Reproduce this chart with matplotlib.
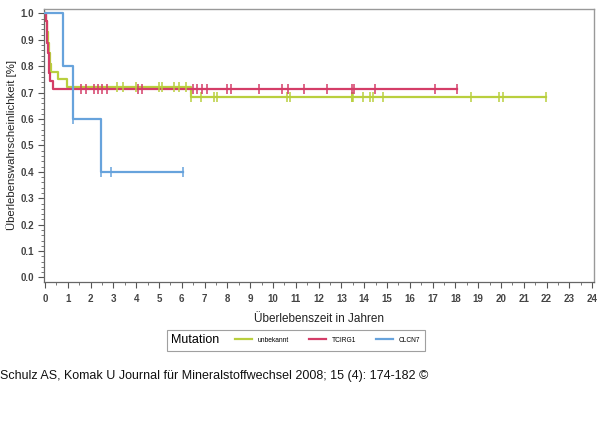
import numpy as np
import matplotlib.pyplot as plt
from matplotlib.ticker import MultipleLocator
from matplotlib.offsetbox import HPacker

# Kaplan-Meier curves (time in years, survival fraction)
unbek_t = [0, 0.05, 0.09, 0.13, 0.17, 0.21, 0.25, 0.58, 0.95, 6.39]
unbek_s = [1.0, 0.97, 0.93, 0.89, 0.85, 0.81, 0.78, 0.75, 0.722, 0.685]
unbek_end = 21.97
unbek_cens = [3.16, 3.40, 4.01, 4.98, 5.12, 5.66, 5.89, 6.18, 6.39, 6.83, 7.41,
              7.56, 10.63, 10.75, 13.45, 13.48, 13.52, 13.96, 14.25, 14.37,
              14.84, 18.68, 19.91, 20.08, 21.97]

tcirg_t = [0, 0.03, 0.07, 0.10, 0.13, 0.16, 0.19, 0.22, 0.37]
tcirg_s = [1.0, 0.97, 0.93, 0.89, 0.85, 0.81, 0.775, 0.745, 0.715]
tcirg_end = 18.07
tcirg_cens = [1.56, 1.78, 2.16, 2.34, 2.51, 2.71, 4.07, 4.24, 6.48, 6.65, 6.87,
              7.09, 7.97, 8.15, 9.40, 10.38, 10.67, 11.36, 12.36, 13.45, 13.55,
              14.47, 17.11, 18.07]

clcn_t = [0, 0.80, 1.22, 2.45]
clcn_s = [1.0, 0.8, 0.6, 0.4]
clcn_end = 6.07
clcn_cens = [1.22, 2.45, 2.90, 6.07]

labels = ["unbekannt", "TCIRG1", "CLCN7"]
colors = ["#b9cf3e", "#d43d68", "#67a3dc"]

plt.rcParams['font.family'] = ['Liberation Sans', 'DejaVu Sans']

fig = plt.figure(figsize=(6, 4.21), dpi=100)
ax = fig.add_axes([0.0733, 0.3302, 0.9167, 0.6484])

groups = [(unbek_t, unbek_s, unbek_end, unbek_cens),
          (tcirg_t, tcirg_s, tcirg_end, tcirg_cens),
          (clcn_t, clcn_s, clcn_end, clcn_cens)]

lines = []
for (t, s, end, cens), col, lab in zip(groups, colors, labels):
    tt = list(t) + [end]
    ss = list(s) + [s[-1]]
    ln, = ax.step(tt, ss, where='post', color=col, lw=1.6, label=lab, zorder=3)
    lines.append(ln)
    # survival at censor times from the step function
    idx = np.searchsorted(t, cens, side='right') - 1
    cy = np.array(s)[idx]
    ax.plot(cens, cy, ls='none', marker='|', ms=7, mew=1.1, color=col, zorder=4)

ax.set_xlim(-0.044, 24.08)
ax.set_ylim(-0.017, 1.017)
ax.xaxis.set_major_locator(MultipleLocator(1))
ax.xaxis.set_minor_locator(MultipleLocator(0.5))
ax.yaxis.set_major_locator(MultipleLocator(0.1))
ax.yaxis.set_minor_locator(MultipleLocator(0.02))
ax.yaxis.set_major_formatter(plt.FuncFormatter(lambda v, p: f"{v:.1f}"))

for sp in ['left', 'bottom']:
    ax.spines[sp].set_color('#666666')
    ax.spines[sp].set_linewidth(0.9)
for sp in ['top', 'right']:
    ax.spines[sp].set_color('#999999')
    ax.spines[sp].set_linewidth(1.0)

ax.tick_params(axis='both', which='major', length=4, width=0.8, color='#555555',
               labelsize=7, labelcolor='#444444', pad=5)
ax.tick_params(axis='y', which='major', pad=3)
ax.tick_params(axis='both', which='minor', length=2, width=0.7, color='#777777')
for lbl in ax.get_xticklabels() + ax.get_yticklabels():
    lbl.set_fontweight('bold')

ax.set_xlabel("Überlebenszeit in Jahren", fontsize=8.5, color='#222222', labelpad=6)
fig.text(12 / 600, 1 - 145 / 421, "Überlebenswahrscheinlichkeit [%]", rotation=90,
         fontsize=8.2, color='#222222', ha='center', va='center')

# legend box
leg = fig.legend(handles=lines, labels=labels, loc='center',
                 bbox_to_anchor=(0.493, 0.192), ncol=3, fontsize=4.8,
                 title="Mutation", frameon=True, fancybox=False,
                 handlelength=2.5, columnspacing=3.0, handletextpad=0.9,
                 borderpad=0.7)
leg.get_frame().set_edgecolor('#888888')
leg.get_frame().set_linewidth(0.8)
leg.get_title().set_fontsize(9)
# put title on the same row as the entries
title_box = leg._legend_title_box
body = leg._legend_handle_box
leg._legend_box._children = [HPacker(pad=0, sep=11, align='center',
                                     children=[title_box, body])]

fig.text(0.0, 0.107, "Schulz AS, Komak U Journal für Mineralstoffwechsel 2008; 15 (4): 174-182 ©",
         fontsize=9, color='#111111', va='center', ha='left')

fig.savefig("out.png", dpi=100)
